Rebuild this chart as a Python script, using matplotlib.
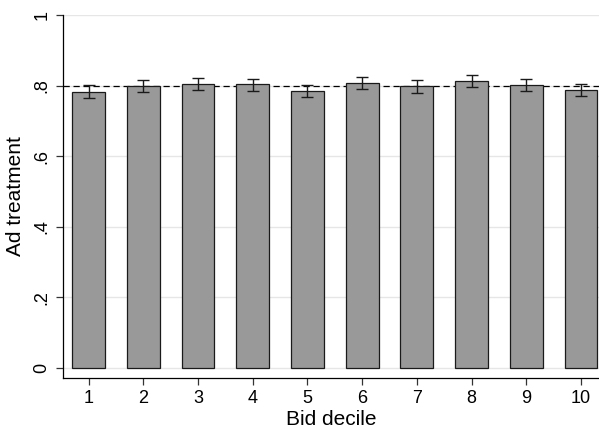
import matplotlib
matplotlib.use("Agg")
import matplotlib.pyplot as plt

plt.rcParams['font.family'] = ['Liberation Sans', 'DejaVu Sans']

deciles = [1, 2, 3, 4, 5, 6, 7, 8, 9, 10]
share = [0.783, 0.800, 0.806, 0.804, 0.785, 0.807, 0.799, 0.814, 0.802, 0.788]
ci_low = [0.764, 0.781, 0.789, 0.786, 0.768, 0.790, 0.780, 0.796, 0.784, 0.771]
ci_high = [0.801, 0.816, 0.823, 0.820, 0.803, 0.824, 0.815, 0.831, 0.818, 0.805]
target = 0.8

err_lo = [s - l for s, l in zip(share, ci_low)]
err_hi = [h - s for s, h in zip(share, ci_high)]

fig = plt.figure(figsize=(5.99, 4.30), dpi=100)
ax = fig.add_axes([0.105, 0.121, 0.895, 0.844])

ax.bar(deciles, share, width=0.6, color='#999999', edgecolor='#1a1a1a',
       linewidth=0.9, zorder=2)
ax.errorbar(deciles, share, yerr=[err_lo, err_hi], fmt='none',
            ecolor='#1a1a1a', elinewidth=1.0, capsize=4, capthick=1.0, zorder=3)
ax.axhline(target, color='black', linestyle=(0, (5, 3)), linewidth=0.9, zorder=1)

ax.set_xlim(0.53, 10.33)
ax.set_ylim(-0.028, 1.0)
ax.set_xticks(deciles)
ax.set_yticks([0, 0.2, 0.4, 0.6, 0.8, 1.0])
ax.set_yticklabels(['0', '.2', '.4', '.6', '.8', '1'], rotation=90, va='center')
ax.yaxis.grid(True, color='#e6e6e6', linewidth=1.0, zorder=0)
ax.set_axisbelow(True)

for s in ['top', 'right']:
    ax.spines[s].set_visible(False)
ax.spines['left'].set_linewidth(0.9)
ax.spines['bottom'].set_linewidth(0.9)
ax.tick_params(labelsize=13, length=5, width=0.9, color='#333333', pad=4)

ax.set_xlabel('Bid decile', fontsize=15, labelpad=2)
ax.set_ylabel('Ad treatment', fontsize=15, labelpad=6)

fig.savefig('out.png', dpi=100, facecolor='white')
